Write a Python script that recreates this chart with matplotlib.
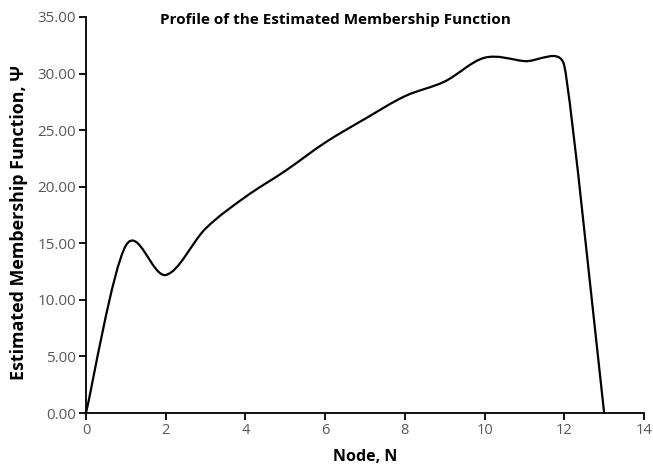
import numpy as np
import matplotlib
matplotlib.use("Agg")
import matplotlib.pyplot as plt
from matplotlib.path import Path
from matplotlib.patches import PathPatch
from matplotlib.ticker import FormatStrFormatter

plt.rcParams['font.family'] = ['Open Sans', 'DejaVu Sans']

# data
nodes = [0, 1, 2, 3, 4, 5, 6, 7, 8, 9, 10, 11, 12, 13]
psi = [0.0, 14.8, 12.2, 16.3, 19.1, 21.4, 23.9, 26.0, 28.0, 29.3, 31.4, 31.1, 30.7, 0.0]

x_ticks = [0, 2, 4, 6, 8, 10, 12, 14]
y_ticks = [0, 5, 10, 15, 20, 25, 30, 35]

fig = plt.figure(figsize=(6.53, 4.67), dpi=100)
ax = fig.add_axes([0.1317, 0.1156, 0.8545, 0.848])
ax.set_xlim(0, 14)
ax.set_ylim(0, 35)

# smoothed line like Excel: Bezier segments, Catmull-Rom handles (1/6 of the
# neighbour span, display space), capped at half of the shorter nearby segment
pts = ax.transData.transform(np.column_stack([nodes, psi]).astype(float))
n = len(pts)
seglen = np.linalg.norm(np.diff(pts, axis=0), axis=1)
tang = []
span = []
for i in range(n):
    d = pts[min(i + 1, n - 1)] - pts[max(i - 1, 0)]
    tang.append(d / np.linalg.norm(d))
    near = [seglen[j] for j in (i - 1, i) if 0 <= j < n - 1]
    span.append(min(np.linalg.norm(d) / 6.0, min(near) * 0.75))
verts = [pts[0]]
codes = [Path.MOVETO]
for i in range(n - 1):
    cap = seglen[i] / 2.0
    verts += [pts[i] + tang[i] * min(span[i], cap),
              pts[i + 1] - tang[i + 1] * min(span[i + 1], cap),
              pts[i + 1]]
    codes += [Path.CURVE4] * 3
verts = ax.transData.inverted().transform(np.array(verts))
ax.add_patch(PathPatch(Path(verts, codes), facecolor='none', edgecolor='black',
                       lw=1.6, capstyle='round', joinstyle='round', clip_on=False))

ax.set_xticks(x_ticks)
ax.set_yticks(y_ticks)
ax.yaxis.set_major_formatter(FormatStrFormatter('%.2f'))

for s in ['top', 'right']:
    ax.spines[s].set_visible(False)
for s in ['left', 'bottom']:
    ax.spines[s].set_linewidth(1.3)
ax.tick_params(direction='out', length=5, width=1.3, colors='black',
               labelcolor='#595959', labelsize=11, pad=2)
ax.tick_params(axis='x', labelsize=10.5)

ax.set_xlabel('Node, N', fontsize=11.5, fontweight='bold')
ax.set_ylabel('Estimated Membership Function, \u03a8', fontsize=12.9,
              fontweight='bold')
ax.xaxis.set_label_coords(0.5, -0.092)
ax.yaxis.set_label_coords(-0.104, 0.482)
fig.text(0.513, 0.957, 'Profile of the Estimated Membership Function',
         ha='center', va='center', fontsize=11, fontweight='bold')

fig.savefig('out.png', dpi=100)
